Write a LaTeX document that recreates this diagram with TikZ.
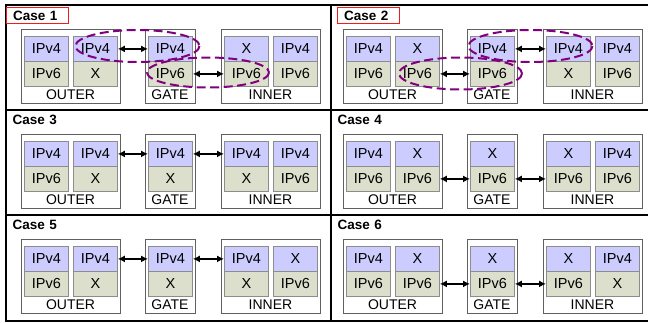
\documentclass[tikz,border=0pt]{standalone}
\usepackage{fontspec}
\setmainfont{Liberation Sans}
\usetikzlibrary{arrows.meta}
\definecolor{v4fill}{HTML}{CCCCFF}
\definecolor{v6fill}{HTML}{DCDFCB}
\definecolor{cellline}{HTML}{8C8C8C}
\definecolor{boxline}{HTML}{606060}
\definecolor{ellcol}{HTML}{800080}
\definecolor{redbox}{HTML}{EE1C1C}
\tikzset{
 cellbox/.style={draw=cellline, line width=0.8pt, minimum width=44pt, minimum height=25pt, inner sep=0pt, anchor=north west, font=\fontsize{14.5}{16}\selectfont},
 v4cell/.style={cellbox, fill=v4fill},
 v6cell/.style={cellbox, fill=v6fill},
 hostbox/.style={draw=boxline, line width=0.9pt, fill=white, minimum height=74pt, inner sep=0pt, anchor=north west},
 hostlabel/.style={anchor=base, inner sep=0pt, font=\fontsize{14}{16}\selectfont},
 caselabel/.style={anchor=north west, inner xsep=6.5pt, inner ysep=0pt, text width=49pt, align=left, minimum height=16pt, font=\fontsize{13.5}{15}\selectfont\bfseries},
 redlabel/.style={caselabel, draw=redbox, line width=1.2pt},
 darr/.style={{Latex[length=7pt,width=7pt]}-{Latex[length=7pt,width=7pt]}, line width=1.4pt, black},
 ell/.style={draw=ellcol, line width=2pt, dash pattern=on 9pt off 4.5pt},
 frameline/.style={line width=2pt, black},
}
\newcommand\caseboxes[1]{%
  \node[hostbox, minimum width=99pt] (#1O) at (21,29) {};
  \node[hostbox, minimum width=50pt] (#1G) at (145,29) {};
  \node[hostbox, minimum width=99pt] (#1I) at (221,29) {};
  \node[hostlabel] (#1Ol) at (70.5,99.5) {OUTER};
  \node[hostlabel] (#1Gl) at (170,99.5) {GATE};
  \node[hostlabel] (#1Il) at (270.5,99.5) {INNER};
}
\newcommand\cellcol[4]{%
  \node[v4cell] (#1t) at (#2,36) {#3};
  \node[v6cell] (#1b) at (#2,61) {#4};
}
\begin{document}
\begin{tikzpicture}[x=1pt,y=-1pt]
\useasboundingbox (0,0) rectangle (648,322);
% frame
\draw[frameline] (648,4.5) -- (5.5,4.5) -- (5.5,321) -- (648,321);
\draw[frameline] (5.5,110) -- (648,110);
\draw[frameline] (5.5,215) -- (648,215);
\draw[frameline] (331,4.5) -- (331,321);
% Case 1
\begin{scope}
\node[redlabel] (lab1) at (6,7) {Case 1};
\caseboxes{a}
\cellcol{aOa}{24}{IPv4}{IPv6}
\cellcol{aOb}{73}{IPv4}{X}
\cellcol{aG}{148}{IPv4}{IPv6}
\cellcol{aIa}{224}{X}{IPv6}
\cellcol{aIb}{273}{IPv4}{IPv6}
\draw[darr] (aObt) -- (aGt);
\draw[darr] (aGb) -- (aIab);
\draw[ell] (137.5,46) ellipse [x radius=62, y radius=16];
\draw[ell] (208,72.5) ellipse [x radius=61, y radius=15];
\end{scope}
% Case 2
\begin{scope}[shift={(322,0)}]
\node[redlabel] (lab2) at (15,7) {Case 2};
\caseboxes{b}
\cellcol{bOa}{24}{IPv4}{IPv6}
\cellcol{bOb}{73}{X}{IPv6}
\cellcol{bG}{148}{IPv4}{IPv6}
\cellcol{bIa}{224}{IPv4}{X}
\cellcol{bIb}{273}{IPv4}{IPv6}
\draw[darr] (bObb) -- (bGb);
\draw[darr] (bGt) -- (bIat);
\draw[ell] (208.5,46) ellipse [x radius=62, y radius=16];
\draw[ell] (138.5,73.5) ellipse [x radius=61.5, y radius=16];
\end{scope}
% Case 3
\begin{scope}[shift={(0,105)}]
\node[caselabel] (lab3) at (6,7) {Case 3};
\caseboxes{c}
\cellcol{cOa}{24}{IPv4}{IPv6}
\cellcol{cOb}{73}{IPv4}{X}
\cellcol{cG}{148}{IPv4}{X}
\cellcol{cIa}{224}{IPv4}{X}
\cellcol{cIb}{273}{IPv4}{IPv6}
\draw[darr] (cObt) -- (cGt);
\draw[darr] (cGt) -- (cIat);
\end{scope}
% Case 4
\begin{scope}[shift={(322,105)}]
\node[caselabel] (lab4) at (9,7) {Case 4};
\caseboxes{d}
\cellcol{dOa}{24}{IPv4}{IPv6}
\cellcol{dOb}{73}{X}{IPv6}
\cellcol{dG}{148}{X}{IPv6}
\cellcol{dIa}{224}{X}{IPv6}
\cellcol{dIb}{273}{IPv4}{IPv6}
\draw[darr] (dObb) -- (dGb);
\draw[darr] (dGb) -- (dIab);
\end{scope}
% Case 5
\begin{scope}[shift={(0,210)}]
\node[caselabel] (lab5) at (6,7) {Case 5};
\caseboxes{e}
\cellcol{eOa}{24}{IPv4}{IPv6}
\cellcol{eOb}{73}{IPv4}{X}
\cellcol{eG}{148}{IPv4}{X}
\cellcol{eIa}{224}{IPv4}{X}
\cellcol{eIb}{273}{X}{IPv6}
\draw[darr] (eObt) -- (eGt);
\draw[darr] (eGt) -- (eIat);
\end{scope}
% Case 6
\begin{scope}[shift={(322,210)}]
\node[caselabel] (lab6) at (9,7) {Case 6};
\caseboxes{f}
\cellcol{fOa}{24}{IPv4}{IPv6}
\cellcol{fOb}{73}{X}{IPv6}
\cellcol{fG}{148}{X}{IPv6}
\cellcol{fIa}{224}{X}{IPv6}
\cellcol{fIb}{273}{IPv4}{X}
\draw[darr] (fObb) -- (fGb);
\draw[darr] (fGb) -- (fIab);
\end{scope}
\end{tikzpicture}
\end{document}
